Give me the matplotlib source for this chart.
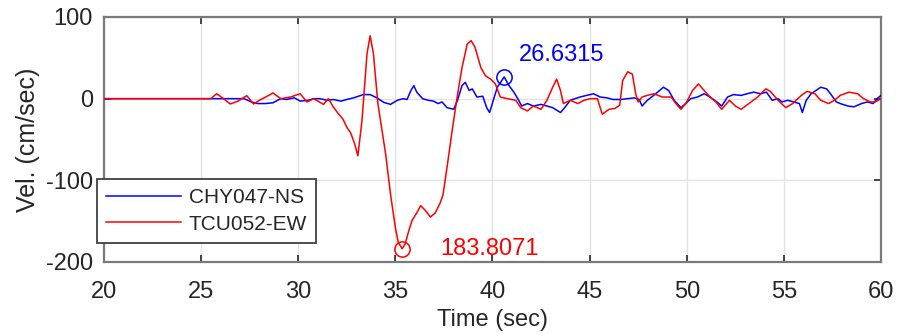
import matplotlib
matplotlib.use("Agg")
import matplotlib.pyplot as plt

plt.rcParams['font.family'] = ['Liberation Sans', 'DejaVu Sans']
plt.rcParams['axes.unicode_minus'] = False

# ---- data ----
red_t = [20, 25.5, 25.8, 26.1, 26.5, 26.9, 27.35, 27.7, 28.0, 28.4, 28.7, 29.1, 29.6, 30.1, 30.45,
         30.8, 31.3, 31.55, 31.8, 32.05, 32.3, 32.5, 32.7, 32.9, 33.07, 33.28, 33.54, 33.7, 33.87,
         34.1, 34.5, 34.75, 35.0, 35.15, 35.35, 35.5, 35.7, 35.86, 36.1, 36.3, 36.55, 36.8, 37.05,
         37.3, 37.45, 37.66, 37.9, 38.18, 38.43, 38.7, 38.9, 39.1, 39.4, 39.64, 39.9, 40.15, 40.4,
         40.76, 41.2, 41.45, 41.8, 42.1, 42.5, 42.8, 43.1, 43.3, 43.5, 43.65, 44.0, 44.4, 44.7,
         45.05, 45.4, 45.65, 46.0, 46.3, 46.55, 46.7, 46.96, 47.2, 47.37, 47.5, 47.7, 47.97, 48.3,
         48.75, 49.2, 49.44, 49.7, 49.95, 50.3, 50.6, 50.9, 51.2, 51.5, 51.8, 52.2, 52.5, 52.8,
         53.2, 53.65, 54.07, 54.3, 54.7, 55.1, 55.45, 55.9, 56.2, 56.6, 56.9, 57.3, 57.6, 57.9,
         58.35, 58.8, 59.1, 59.45, 59.7, 60]
red_v = [0, 0, 6, 1, -6.5, -3, 3.7, -6.5, -2, 3, 7, 0, 2, 6, -4,
         0, -7, 0, -10, -18, -25, -35, -42, -55, -70, -27, 55, 77, 55,
         -6, -68, -117, -158, -176, -183.8, -178, -161, -149, -140, -131, -137, -145, -140,
         -128, -118, -84, -43, 2, 38, 67, 71, 63, 38, 28, 24, 18, 2,
         0, -2, -11, -15, -9, -13, -2, 14, 24, 10, -6, -2, -6, -2,
         0, 0, -19, -13, -12, -8, 22, 33, 30, 6, -4, 2, 4, 6,
         2, 2, -6, -13, -6, 10, 18, 10, 2, -4, -13, -2, -9, -13,
         -6, 2, 12, 9, -2, -11, -6, 4, 9, 6, -2, -6, -2, 4,
         8, 6, 0, -4, -4, 0]

blue_t = [20, 25.5, 26.5, 27.2, 27.6, 27.9, 28.3, 28.7, 29.1, 29.4, 29.8, 30.1, 30.5, 30.8, 31.1,
          31.5, 31.8, 32.2, 32.5, 32.85, 33.35, 33.7, 34.05, 34.4, 34.75, 35.1, 35.4, 35.6, 35.8,
          35.95, 36.1, 36.4, 36.7, 36.96, 37.2, 37.4, 37.66, 38.0, 38.2, 38.43, 38.6, 38.8, 38.96,
          39.2, 39.5, 39.7, 39.85, 40.04, 40.25, 40.6, 40.85, 41.1, 41.35, 41.5, 41.8, 42.1, 42.5,
          42.8, 43.1, 43.5, 43.75, 44.0, 44.5, 44.85, 45.2, 45.55, 45.9, 46.2, 46.6, 46.96, 47.3,
          47.55, 47.7, 47.97, 48.3, 48.6, 48.8, 49.07, 49.35, 49.7, 49.95, 50.2, 50.55, 50.9, 51.2,
          51.55, 51.8, 52.1, 52.4, 52.8, 53.1, 53.45, 53.8, 54.1, 54.4, 54.7, 54.9, 55.2, 55.5,
          55.8, 55.95, 56.15, 56.4, 56.65, 56.9, 57.2, 57.4, 57.7, 57.9, 58.3, 58.6, 59.0, 59.3,
          59.6, 59.8, 60]
blue_v = [0, 0, 0, 0, -4, -6, -6, -5, 0, -1, 1, -3, -2, 0, 0,
          -2, -1, -3, -1, 1, 5, 5, 1, -4.5, -7, -2, 0, -1, 10,
          16, 8, 0, -2, -3, -6, -4, -11, -13, -2, 16, 20, 10, 12,
          2, 3, -11, -17, -2, 14, 26.63, 16, 8, -2, -9, -6, -9, -7,
          -9, -11, -17, -10, -2, 2, 4, 6, 2, 1, -1, -1, 0, 1,
          -1, -9, -2, 4, 10, 14, 10, -2, -11, -6, 0, 2, 6, 2,
          -4, -9, 2, 5, 4, 6, 8, 6, 8, -2, 0, -4, -2, -4,
          -6, -17, -2, 6, 10, 14, 12, 6, -4, -6, -9, -10, -6, -4,
          -6, 0, 4]

series_labels = ['CHY047-NS', 'TCU052-EW']
peak_blue = (40.6, 26.63)
peak_red = (35.35, -183.8)
peak_blue_text = '26.6315'
peak_red_text = '183.8071'
x_ticks = [20, 25, 30, 35, 40, 45, 50, 55, 60]
y_ticks = [-200, -100, 0, 100]

# ---- figure ----
W, H = 912, 334
fig = plt.figure(figsize=(W / 100, H / 100), dpi=100)
ax = fig.add_axes([104 / W, 1 - 262 / H, (881 - 104) / W, (262 - 17) / H])

txt = '#262626'
ax.plot(blue_t, blue_v, color='#0000ff', lw=1.1, label=series_labels[0], zorder=3)
ax.plot(red_t, red_v, color='#ff0000', lw=1.1, label=series_labels[1], zorder=3)

ax.plot(*peak_blue, marker='o', ms=11, mfc='none', mec='#0000ff', mew=1.1, zorder=4)
ax.plot(*peak_red, marker='o', ms=11, mfc='none', mec='#ff0000', mew=1.1, zorder=4)
ax.text(41.35, 53, peak_blue_text, color='#0000ff', fontsize=17, va='center', ha='left')
ax.text(37.3, -184, peak_red_text, color='#ff0000', fontsize=17, va='center', ha='left')

ax.set_xlim(20, 60)
ax.set_ylim(-200, 100)
ax.set_xticks(x_ticks)
ax.set_yticks(y_ticks)
ax.grid(True, color='#e3e3e3', lw=1.0, zorder=0)
ax.set_axisbelow(True)
ax.tick_params(direction='in', length=5, width=1.2, colors=txt, labelsize=17,
               top=True, right=True)
ax.tick_params(axis='x', pad=14)
ax.tick_params(axis='y', pad=8)
for sp in ax.spines.values():
    sp.set_color('#7a7a7a')
    sp.set_linewidth(1.6)

ax.set_xlabel('Time (sec)', fontsize=17, color=txt, labelpad=4)
ax.set_ylabel('Vel. (cm/sec)', fontsize=18, color=txt, labelpad=4)

leg = ax.legend(loc='lower left', bbox_to_anchor=(97 / W, 1 - 243 / H),
                bbox_transform=fig.transFigure, fontsize=15, frameon=True,
                fancybox=False, framealpha=1, edgecolor='#404040',
                handlelength=3.6, handletextpad=0.35, borderaxespad=0,
                borderpad=0.45, labelspacing=0.35)
leg.get_frame().set_linewidth(1.3)
for t in leg.get_texts():
    t.set_color(txt)

fig.savefig('out.png', dpi=100)
